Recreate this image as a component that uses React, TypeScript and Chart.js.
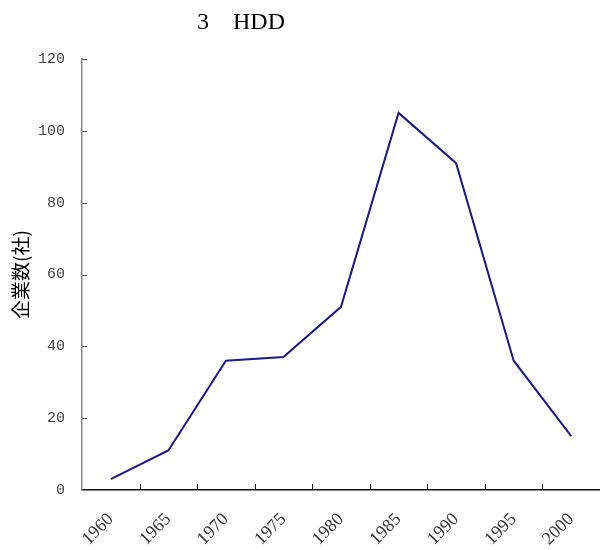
import React, { useEffect, useRef } from "react";
import { Chart, registerables } from "chart.js";

Chart.register(...registerables);

const chartTitle = "3　HDD";
const yAxisTitle = "企業数(社)";
const years = ["1960", "1965", "1970", "1975", "1980", "1985", "1990", "1995", "2000"];
const companies = [3, 11, 36, 37, 51, 105, 91, 36, 15];
const yMin = 0;
const yMax = 120;
const yStep = 20;

const innerTicks = {
  id: "innerTicks",
  afterDraw(chart: any) {
    const { ctx, chartArea, scales } = chart;
    const x = scales.x;
    const y = scales.y;
    ctx.save();
    ctx.lineWidth = 1;
    ctx.strokeStyle = "#555";
    for (let v = yMin + yStep; v <= yMax; v += yStep) {
      const py = Math.round(y.getPixelForValue(v)) + 0.5;
      ctx.beginPath();
      ctx.moveTo(chartArea.left, py);
      ctx.lineTo(chartArea.left + 5, py);
      ctx.stroke();
    }
    ctx.strokeStyle = "#222";
    for (let i = 0; i < years.length - 1; i++) {
      const px = Math.round((x.getPixelForValue(i) + x.getPixelForValue(i + 1)) / 2) + 0.5;
      ctx.beginPath();
      ctx.moveTo(px, chartArea.bottom);
      ctx.lineTo(px, chartArea.bottom - 6);
      ctx.stroke();
    }
    ctx.fillStyle = "#000";
    ctx.font = '24px "Liberation Serif"';
    ctx.textAlign = "left";
    ctx.textBaseline = "alphabetic";
    ctx.fillText(chartTitle, 197, 29);
    ctx.restore();
  },
};

export default function App() {
  const ref = useRef<HTMLCanvasElement | null>(null);
  useEffect(() => {
    if (!ref.current) return;
    Chart.defaults.font.family = '"Liberation Serif", serif';
    Chart.defaults.font.size = 16;
    const chart = new Chart(ref.current, {
      type: "line",
      data: {
        labels: years,
        datasets: [
          {
            data: companies,
            borderColor: "#1a1a8c",
            borderWidth: 2,
            pointRadius: 0,
            tension: 0,
            fill: false,
          },
        ],
      },
      options: {
        animation: false,
        responsive: true,
        maintainAspectRatio: false,
        layout: { padding: { top: 59, left: 0, right: 0, bottom: 0 } },
        plugins: { legend: { display: false }, title: { display: false }, tooltip: { enabled: false } },
        scales: {
          x: {
            type: "category",
            offset: true,
            grid: { display: true, drawOnChartArea: false, drawTicks: false, offset: true },
            border: { display: true, color: "#111", width: 1.5 },
            ticks: {
              minRotation: 45,
              maxRotation: 45,
              autoSkip: false,
              padding: 19,
              color: "#333",
              font: { family: '"Liberation Serif", serif', size: 18 },
            },
            afterFit: (s: any) => {
              s.height = 60;
              s.paddingRight = 0;
              s.paddingLeft = 0;
            },
          },
          y: {
            min: yMin,
            max: yMax,
            grid: { display: true, drawOnChartArea: false, drawTicks: false },
            border: { display: true, color: "#888", width: 1.5 },
            ticks: {
              stepSize: yStep,
              padding: 17,
              color: "#444",
              font: { family: '"Liberation Mono", monospace', size: 15 },
            },
            title: {
              display: true,
              text: yAxisTitle,
              color: "#000",
              padding: { top: 9, bottom: 0 },
              font: { family: '"Noto Sans CJK JP"', size: 19 },
            },
            afterFit: (s: any) => {
              s.width = 82;
            },
          },
        },
      },
      plugins: [innerTicks],
    });
    return () => chart.destroy();
  }, []);
  return (
    <div style={{ position: "fixed", left: 0, top: 0, width: 600, height: 550, background: "#fff" }}>
      <canvas ref={ref} />
    </div>
  );
}
